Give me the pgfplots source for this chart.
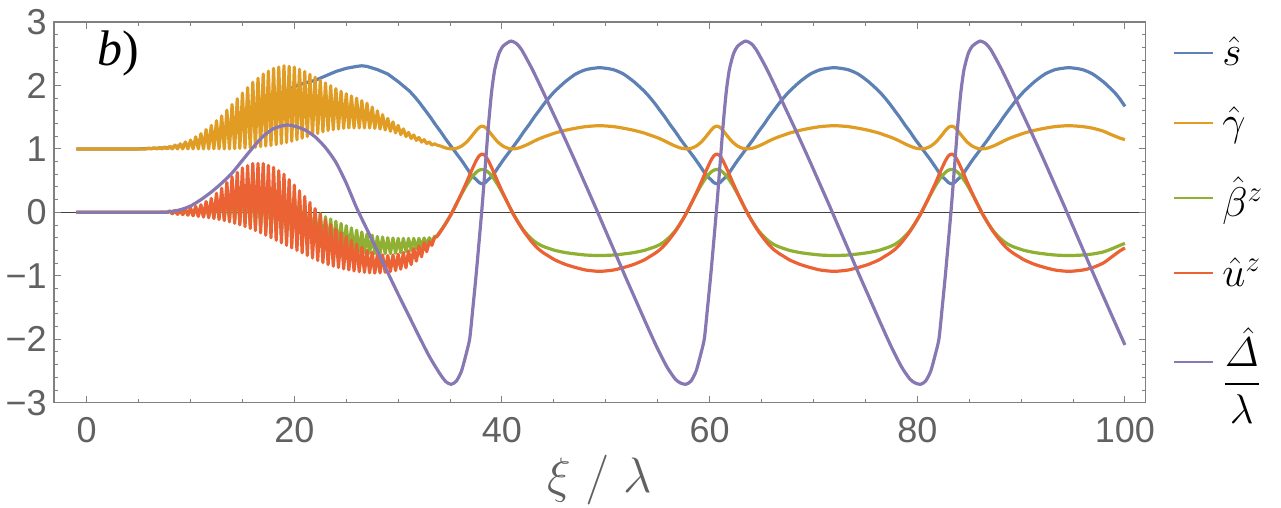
\documentclass[border=0pt]{standalone}
\usepackage{amsmath}
\usepackage[no-math]{fontspec}
\setmainfont{Liberation Sans}
\newfontfamily\tnr{Liberation Serif}
\usepackage{pgfplots}
\usepackage{pgfplotstable}
\pgfplotsset{compat=1.18}

\definecolor{cS}{HTML}{5E81B5}
\definecolor{cG}{HTML}{E19C24}
\definecolor{cB}{HTML}{8FB032}
\definecolor{cU}{HTML}{EB6235}
\definecolor{cD}{HTML}{8778B3}

% smooth part, xi >= 34.1 : s, gamma, beta^z, u^z
\pgfplotstableread{
x s g b u
34.1 1.27 1.044 -0.287 -0.30
34.6 1.15 1.014 -0.168 -0.17
35.1 1.04 1.000 -0.030 -0.03
35.6 0.93 1.008 0.129 0.13
36.1 0.82 1.044 0.287 0.30
36.6 0.70 1.109 0.433 0.48
37.1 0.58 1.204 0.557 0.67
37.5 0.52 1.287 0.629 0.81
37.8 0.47 1.339 0.665 0.89
38.1 0.45 1.359 0.677 0.92
38.4 0.47 1.339 0.665 0.89
38.7 0.52 1.287 0.629 0.81
39.1 0.58 1.204 0.557 0.67
39.6 0.70 1.109 0.433 0.48
40.1 0.82 1.044 0.287 0.30
40.6 0.93 1.008 0.129 0.13
41.1 1.04 1.000 -0.030 -0.03
41.6 1.15 1.014 -0.168 -0.17
42.1 1.27 1.044 -0.287 -0.30
42.6 1.38 1.081 -0.379 -0.41
43.1 1.50 1.123 -0.454 -0.51
43.6 1.61 1.161 -0.508 -0.59
44.1 1.72 1.193 -0.545 -0.65
44.6 1.82 1.221 -0.573 -0.70
45.1 1.91 1.250 -0.600 -0.75
46.1 2.06 1.293 -0.634 -0.82
47.1 2.18 1.326 -0.656 -0.87
48.1 2.25 1.352 -0.673 -0.91
49.4 2.28 1.366 -0.681 -0.93
50.7 2.25 1.352 -0.673 -0.91
51.7 2.18 1.326 -0.656 -0.87
52.7 2.06 1.293 -0.634 -0.82
53.7 1.91 1.250 -0.600 -0.75
54.2 1.82 1.221 -0.573 -0.70
54.7 1.72 1.193 -0.545 -0.65
55.2 1.61 1.161 -0.508 -0.59
55.7 1.50 1.123 -0.454 -0.51
56.2 1.38 1.081 -0.379 -0.41
56.7 1.27 1.044 -0.287 -0.30
57.2 1.15 1.014 -0.168 -0.17
57.7 1.04 1.000 -0.030 -0.03
58.2 0.93 1.008 0.129 0.13
58.7 0.82 1.044 0.287 0.30
59.2 0.70 1.109 0.433 0.48
59.7 0.58 1.204 0.557 0.67
60.1 0.52 1.287 0.629 0.81
60.4 0.47 1.339 0.665 0.89
60.7 0.45 1.359 0.677 0.92
61.0 0.47 1.339 0.665 0.89
61.3 0.52 1.287 0.629 0.81
61.7 0.58 1.204 0.557 0.67
62.2 0.70 1.109 0.433 0.48
62.7 0.82 1.044 0.287 0.30
63.2 0.93 1.008 0.129 0.13
63.7 1.04 1.000 -0.030 -0.03
64.2 1.15 1.014 -0.168 -0.17
64.7 1.27 1.044 -0.287 -0.30
65.2 1.38 1.081 -0.379 -0.41
65.7 1.50 1.123 -0.454 -0.51
66.2 1.61 1.161 -0.508 -0.59
66.7 1.72 1.193 -0.545 -0.65
67.2 1.82 1.221 -0.573 -0.70
67.7 1.91 1.250 -0.600 -0.75
68.7 2.06 1.293 -0.634 -0.82
69.7 2.18 1.326 -0.656 -0.87
70.7 2.25 1.352 -0.673 -0.91
72.0 2.28 1.366 -0.681 -0.93
73.3 2.25 1.352 -0.673 -0.91
74.3 2.18 1.326 -0.656 -0.87
75.3 2.06 1.293 -0.634 -0.82
76.3 1.91 1.250 -0.600 -0.75
76.8 1.82 1.221 -0.573 -0.70
77.3 1.72 1.193 -0.545 -0.65
77.8 1.61 1.161 -0.508 -0.59
78.3 1.50 1.123 -0.454 -0.51
78.8 1.38 1.081 -0.379 -0.41
79.3 1.27 1.044 -0.287 -0.30
79.8 1.15 1.014 -0.168 -0.17
80.3 1.04 1.000 -0.030 -0.03
80.8 0.93 1.008 0.129 0.13
81.3 0.82 1.044 0.287 0.30
81.8 0.70 1.109 0.433 0.48
82.3 0.58 1.204 0.557 0.67
82.7 0.52 1.287 0.629 0.81
83.0 0.47 1.339 0.665 0.89
83.3 0.45 1.359 0.677 0.92
83.6 0.47 1.339 0.665 0.89
83.9 0.52 1.287 0.629 0.81
84.3 0.58 1.204 0.557 0.67
84.8 0.70 1.109 0.433 0.48
85.3 0.82 1.044 0.287 0.30
85.8 0.93 1.008 0.129 0.13
86.3 1.04 1.000 -0.030 -0.03
86.8 1.15 1.014 -0.168 -0.17
87.3 1.27 1.044 -0.287 -0.30
87.8 1.38 1.081 -0.379 -0.41
88.3 1.50 1.123 -0.454 -0.51
88.8 1.61 1.161 -0.508 -0.59
89.3 1.72 1.193 -0.545 -0.65
89.8 1.82 1.221 -0.573 -0.70
90.3 1.91 1.250 -0.600 -0.75
91.3 2.06 1.293 -0.634 -0.82
92.3 2.18 1.326 -0.656 -0.87
93.3 2.25 1.352 -0.673 -0.91
94.6 2.28 1.366 -0.681 -0.93
95.9 2.25 1.352 -0.673 -0.91
96.9 2.18 1.326 -0.656 -0.87
97.9 2.06 1.281 -0.625 -0.80
98.5 1.97 1.238 -0.590 -0.73
99.0 1.89 1.204 -0.557 -0.67
99.5 1.79 1.171 -0.521 -0.61
100.0 1.67 1.146 -0.489 -0.56
}\tail

\begin{document}
\begin{tikzpicture}
\begin{axis}[
  name=ax,
  width=545.85pt, height=190.35pt, scale only axis,
  xmin=-3.15, xmax=102, ymin=-3, ymax=3,
  xtick={0,20,...,100}, minor x tick num=3,
  ytick={-3,-2,-1,0,1,2,3},
  yticklabels={−3,−2,−1,0,1,2,3},
  minor y tick num=4,
  tick align=inside,
  major tick length=3.5pt, minor tick length=1.8pt,
  every tick/.style={black!50, line width=0.5pt},
  axis line style={black!50, line width=0.6pt},
  tick label style={font=\fontsize{18}{20}\selectfont, text=black!62},
  /pgf/number format/assume math mode=true,
  xticklabel style={anchor=north, inner sep=0pt, yshift=-7pt},
  yticklabel style={anchor=east, inner sep=0pt, xshift=-3.5pt},
  xlabel={$\xi\;/\;\lambda$},
  xlabel style={at={(axis description cs:0.5,0)}, anchor=center, yshift=-38.5pt,
    font=\fontsize{23}{27}\selectfont, text=black!62},
  extra y ticks={0}, extra y tick labels={},
  extra y tick style={grid=major, major grid style={black!75, line width=0.5pt}},
  every axis plot/.append style={line width=1.6pt, line join=round},
  legend style={at={(axis description cs:1,0.972)}, anchor=north west, xshift=13.65pt,
    draw=none, fill=none, font=\fontsize{21}{24}\selectfont, row sep=15pt,
    inner sep=0pt, column sep=2pt, cells={anchor=west}},
  legend image code/.code={\draw[#1, line width=1pt] (0pt,0pt) -- (19.5pt,0pt);},
]
% s hat
\addplot[cS] coordinates {
(-1,1) (5,1) (8,1.02) (10,1.08) (12,1.2) (14,1.4) (16,1.62) (18,1.82) (20,1.98)
(21,2.04) (22,2.08) (23,2.15) (24,2.22) (25,2.27) (26,2.30) (26.5,2.31) (27,2.30)
(28,2.25) (29,2.18) (30,2.06) (31.1,1.91) (31.6,1.82) (32.1,1.72) (32.6,1.61)
(33.1,1.50) (33.6,1.38) (34.1,1.27)
};
\addplot[cS, smooth, tension=0.4, forget plot] table[x=x, y=s] {\tail};
% gamma hat
\addplot[cG] coordinates {
(-1,1) (5.75,1)
(6,1.01) (6.25,1.0) (6.5,1.015) (6.75,1.0)
(7,1.02) (7.25,1.0) (7.5,1.03) (7.75,1.0)
(8,1.04) (8.25,1.0) (8.5,1.06) (8.75,1.0)
(9,1.08) (9.25,1.0) (9.5,1.11) (9.75,1.0)
(10,1.14) (10.25,1.0) (10.5,1.19) (10.75,1.0)
(11,1.24) (11.25,1.0) (11.5,1.305) (11.75,1.0)
(12,1.37) (12.25,1.0) (12.5,1.445) (12.75,1.0)
(13,1.52) (13.25,1.0) (13.5,1.61) (13.75,1.0)
(14,1.70) (14.25,1.003) (14.5,1.79) (14.75,1.008)
(15,1.88) (15.25,1.013) (15.5,1.965) (15.75,1.018)
(16,2.05) (16.25,1.025) (16.5,2.115) (16.75,1.035)
(17,2.18) (17.25,1.045) (17.5,2.225) (17.75,1.055)
(18,2.27) (18.25,1.068) (18.5,2.29) (18.75,1.083)
(19,2.31) (19.25,1.10) (19.5,2.30) (19.75,1.12)
(20,2.29) (20.25,1.143) (20.5,2.255) (20.75,1.168)
(21,2.22) (21.25,1.193) (21.5,2.175) (21.75,1.218)
(22,2.13) (22.25,1.243) (22.5,2.085) (22.75,1.268)
(23,2.04) (23.25,1.288) (23.5,1.995) (23.75,1.303)
(24,1.95) (24.25,1.315) (24.5,1.91) (24.75,1.325)
(25,1.87) (25.25,1.33) (25.5,1.835) (25.75,1.33)
(26,1.80) (26.25,1.33) (26.5,1.76) (26.75,1.33)
(27,1.72) (27.25,1.328) (27.5,1.66) (27.75,1.323)
(28,1.60) (28.25,1.313) (28.5,1.54) (28.75,1.298)
(29,1.48) (29.25,1.278) (29.5,1.425) (29.75,1.253)
(30,1.37) (30.25,1.225) (30.5,1.315) (30.75,1.195)
(31,1.26) (31.25,1.165) (31.5,1.22) (31.75,1.135)
(32,1.18) (32.25,1.108) (32.5,1.145) (32.75,1.083)
(33,1.11) (33.25,1.06) (33.5,1.08) (33.75,1.06)
(34.1,1.044)
};
\addplot[cG, smooth, tension=0.4, forget plot] table[x=x, y=g] {\tail};
% beta^z hat
\addplot[cB] coordinates {
(-1,0) (7.75,0)
(8,0.02) (8.25,-0.02) (8.5,0.025) (8.75,-0.028)
(9,0.03) (9.25,-0.033) (9.5,0.04) (9.75,-0.038)
(10,0.05) (10.25,-0.043) (10.5,0.07) (10.75,-0.048)
(11,0.09) (11.25,-0.055) (11.5,0.12) (11.75,-0.065)
(12,0.15) (12.25,-0.075) (12.5,0.20) (12.75,-0.085)
(13,0.25) (13.25,-0.098) (13.5,0.30) (13.75,-0.113)
(14,0.35) (14.25,-0.13) (14.5,0.385) (14.75,-0.15)
(15,0.42) (15.25,-0.17) (15.5,0.435) (15.75,-0.19)
(16,0.45) (16.25,-0.213) (16.5,0.45) (16.75,-0.238)
(17,0.45) (17.25,-0.263) (17.5,0.435) (17.75,-0.288)
(18,0.42) (18.25,-0.313) (18.5,0.385) (18.75,-0.338)
(19,0.35) (19.25,-0.363) (19.5,0.30) (19.75,-0.388)
(20,0.25) (20.25,-0.413) (20.5,0.195) (20.75,-0.438)
(21,0.14) (21.25,-0.463) (21.5,0.085) (21.75,-0.488)
(22,0.03) (22.25,-0.508) (22.5,-0.02) (22.75,-0.523)
(23,-0.07) (23.25,-0.54) (23.5,-0.105) (23.75,-0.56)
(24,-0.14) (24.25,-0.578) (24.5,-0.175) (24.75,-0.593)
(25,-0.21) (25.25,-0.605) (25.5,-0.245) (25.75,-0.615)
(26,-0.28) (26.25,-0.625) (26.5,-0.31) (26.75,-0.635)
(27,-0.34) (27.25,-0.643) (27.5,-0.36) (27.75,-0.648)
(28,-0.38) (28.25,-0.65) (28.5,-0.39) (28.75,-0.65)
(29,-0.40) (29.25,-0.648) (29.5,-0.405) (29.75,-0.643)
(30,-0.41) (30.25,-0.633) (30.5,-0.41) (30.75,-0.618)
(31,-0.41) (31.25,-0.598) (31.5,-0.41) (31.75,-0.573)
(32,-0.41) (32.25,-0.543) (32.5,-0.405) (32.75,-0.508)
(33,-0.40) (33.25,-0.475) (33.5,-0.38) (33.75,-0.37)
(34.1,-0.287)
};
\addplot[cB, smooth, tension=0.4, forget plot] table[x=x, y=b] {\tail};
% u^z hat
\addplot[cU] coordinates {
(-1,0) (7.75,0)
(8,0.02) (8.25,-0.02) (8.5,0.03) (8.75,-0.03)
(9,0.04) (9.25,-0.035) (9.5,0.055) (9.75,-0.045)
(10,0.07) (10.25,-0.055) (10.5,0.095) (10.75,-0.065)
(11,0.12) (11.25,-0.075) (11.5,0.17) (11.75,-0.085)
(12,0.22) (12.25,-0.098) (12.5,0.30) (12.75,-0.113)
(13,0.38) (13.25,-0.13) (13.5,0.47) (13.75,-0.15)
(14,0.56) (14.25,-0.173) (14.5,0.63) (14.75,-0.198)
(15,0.70) (15.25,-0.225) (15.5,0.735) (15.75,-0.255)
(16,0.77) (16.25,-0.288) (16.5,0.77) (16.75,-0.323)
(17,0.77) (17.25,-0.36) (17.5,0.74) (17.75,-0.40)
(18,0.71) (18.25,-0.44) (18.5,0.655) (18.75,-0.48)
(19,0.60) (19.25,-0.52) (19.5,0.515) (19.75,-0.56)
(20,0.43) (20.25,-0.60) (20.5,0.34) (20.75,-0.64)
(21,0.25) (21.25,-0.68) (21.5,0.155) (21.75,-0.72)
(22,0.06) (22.25,-0.758) (22.5,-0.03) (22.75,-0.793)
(23,-0.12) (23.25,-0.823) (23.5,-0.19) (23.75,-0.848)
(24,-0.26) (24.25,-0.87) (24.5,-0.32) (24.75,-0.89)
(25,-0.38) (25.25,-0.908) (25.5,-0.44) (25.75,-0.923)
(26,-0.50) (26.25,-0.935) (26.5,-0.55) (26.75,-0.945)
(27,-0.60) (27.25,-0.953) (27.5,-0.63) (27.75,-0.958)
(28,-0.66) (28.25,-0.955) (28.5,-0.67) (28.75,-0.945)
(29,-0.68) (29.25,-0.933) (29.5,-0.67) (29.75,-0.918)
(30,-0.66) (30.25,-0.895) (30.5,-0.635) (30.75,-0.873)
(31,-0.61) (31.25,-0.823) (31.5,-0.57) (31.75,-0.768)
(32,-0.53) (32.25,-0.70) (32.5,-0.48) (32.75,-0.62)
(33,-0.46) (33.25,-0.52) (33.5,-0.40) (33.75,-0.38)
(34.1,-0.30)
};
\addplot[cU, smooth, tension=0.4, forget plot] table[x=x, y=u] {\tail};
% Delta hat / lambda
\addplot[cD, smooth, tension=0.4] coordinates {
(-1,0) (7,0) (8,0.01) (9,0.04) (10,0.1) (11,0.2) (12,0.32) (13,0.46) (14,0.62)
(15,0.82) (16,1.02) (17,1.2) (18,1.32) (19,1.37) (19.5,1.375) (20,1.36) (21,1.3)
(22,1.19) (23,1.02) (24,0.79) (25,0.46) (26,0.07) (27,-0.27) (28,-0.61) (29,-0.95)
(30,-1.29) (31,-1.62) (32,-1.95) (33,-2.27) (34,-2.54) (34.6,-2.67) (35.1,-2.71)
(35.6,-2.66) (36.1,-2.5) (36.6,-2.2) (36.9,-1.98) (37.2,-1.5) (37.5,-1.0) (37.8,-0.45)
(38.1,0.12) (38.4,0.75) (38.7,1.38) (39.0,1.9) (39.3,2.25) (39.7,2.5) (40.1,2.62)
(40.6,2.68) (40.9,2.70)
(41.4,2.66) (41.9,2.56) (42.9,2.26) (43.9,1.92) (44.9,1.57) (45.9,1.22) (46.9,0.86)
(47.9,0.49) (48.9,0.12) (49.9,-0.26) (50.9,-0.64) (51.9,-1.02) (52.9,-1.39) (53.9,-1.76)
(54.9,-2.12) (55.9,-2.44) (56.7,-2.63) (57.2,-2.69) (57.7,-2.71)
(58.2,-2.66) (58.7,-2.5) (59.2,-2.2) (59.5,-1.98) (59.8,-1.5) (60.1,-1.0) (60.4,-0.45)
(60.7,0.12) (61.0,0.75) (61.3,1.38) (61.6,1.9) (61.9,2.25) (62.3,2.5) (62.7,2.62)
(63.2,2.68) (63.5,2.70)
(64.0,2.66) (64.5,2.56) (65.5,2.26) (66.5,1.92) (67.5,1.57) (68.5,1.22) (69.5,0.86)
(70.5,0.49) (71.5,0.12) (72.5,-0.26) (73.5,-0.64) (74.5,-1.02) (75.5,-1.39) (76.5,-1.76)
(77.5,-2.12) (78.5,-2.44) (79.3,-2.63) (79.8,-2.69) (80.3,-2.71)
(80.8,-2.66) (81.3,-2.5) (81.8,-2.2) (82.1,-1.98) (82.4,-1.5) (82.7,-1.0) (83.0,-0.45)
(83.3,0.12) (83.6,0.75) (83.9,1.38) (84.2,1.9) (84.5,2.25) (84.9,2.5) (85.3,2.62)
(85.8,2.68) (86.1,2.70)
(86.6,2.66) (87.1,2.56) (88.1,2.26) (89.1,1.92) (90.1,1.57) (91.1,1.22) (92.1,0.86)
(93.1,0.49) (94.1,0.12) (95.1,-0.26) (96.1,-0.64) (97.1,-1.02) (98.1,-1.39) (99.1,-1.76)
(100,-2.09)
};
\legend{$\hat{s}$, $\hat{\gamma}$, $\hat{\beta}^{z}$, $\hat{u}^{z}$, $\dfrac{\hat{\varDelta}}{\lambda}$}
\node at (axis description cs:0.0586,0.9186) {\tnr\fontsize{25}{28}\selectfont\itshape b\upshape)};
\end{axis}
\pgfresetboundingbox
\path ([shift={(-27pt,-52.65pt)}]ax.south west) rectangle ([shift={(67.65pt,11pt)}]ax.north east);
\end{tikzpicture}
\end{document}
